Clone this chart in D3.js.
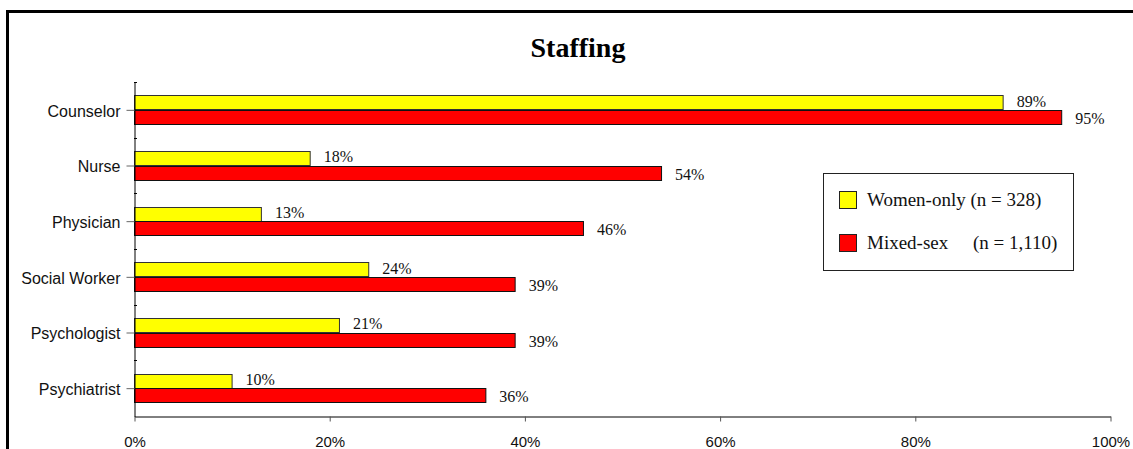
<!DOCTYPE html>
<html>
<head>
<meta charset="utf-8">
<script src="https://cdn.jsdelivr.net/npm/d3@7"></script>
<style>
  html, body { margin: 0; padding: 0; background: #fff; }
  svg { display: block; }
</style>
</head>
<body>
<svg id="chart" width="1133" height="449"></svg>
<script>
// Staffing by program type: share of programs with each staff role
const categories = ["Counselor", "Nurse", "Physician", "Social Worker", "Psychologist", "Psychiatrist"];
const womenOnly = [89, 18, 13, 24, 21, 10];
const mixedSex = [95, 54, 46, 39, 39, 36];
const seriesNames = ["Women-only (n = 328)", "Mixed-sex"];
const seriesNotes = ["", "(n = 1,110)"];
const xTicks = [0, 20, 40, 60, 80, 100];

const colors = ["#ffff00", "#ff0000"];
const serif = "'Times New Roman', 'Liberation Serif', serif";
const sans = "Arial, 'Liberation Sans', sans-serif";

const svg = d3.select("#chart");

// Outer frame
svg.append("path")
  .attr("d", "M7.5,1000 L7.5,11.5 L1200,11.5")
  .attr("fill", "none")
  .attr("stroke", "#000")
  .attr("stroke-width", 3);

// Title
svg.append("text")
  .attr("x", 578).attr("y", 57)
  .attr("text-anchor", "middle")
  .attr("font-family", serif)
  .attr("font-weight", "bold")
  .attr("font-size", 28)
  .text("Staffing");

const x = d3.scaleLinear().domain([0, 100]).range([134, 1110]);
const y = d3.scaleBand().domain(categories).range([82, 416])
  .paddingInner(0.48).paddingOuter(0.24);
const ySub = d3.scaleBand().domain([0, 1]).range([0, y.bandwidth()]);

const rows = categories.map((c, i) => ({ cat: c, vals: [womenOnly[i], mixedSex[i]] }));

// Bars
const g = svg.append("g");
rows.forEach(r => {
  r.vals.forEach((v, s) => {
    const y0 = y(r.cat) + ySub(s);
    g.append("rect")
      .attr("x", x(0) + 0.5)
      .attr("y", Math.round(y0) + 0.5)
      .attr("width", x(v) - x(0))
      .attr("height", Math.round(ySub.bandwidth()))
      .attr("fill", colors[s])
      .attr("stroke", s === 0 ? "#333" : "#111")
      .attr("stroke-width", 1);
    g.append("text")
      .attr("x", x(v) + 14)
      .attr("y", y0 + ySub.bandwidth() / 2 + (s === 0 ? 4 : 7))
      .attr("font-family", serif)
      .attr("font-size", 16)
      .attr("fill", "#111")
      .text(v + "%");
  });
});

// X axis
const xAxis = d3.axisBottom(x)
  .tickValues(xTicks)
  .tickFormat(d => d + "%")
  .tickSize(5)
  .tickSizeOuter(0);
const gx = svg.append("g")
  .attr("transform", "translate(0.5,416.5)")
  .call(xAxis);
gx.select(".domain").attr("stroke", "#000");
gx.selectAll(".tick line").attr("stroke", "#555");
gx.selectAll(".tick text")
  .attr("font-family", sans)
  .attr("font-size", 15)
  .attr("fill", "#111")
  .attr("dy", 0)
  .attr("y", 30);

// Y axis
const yAxis = d3.axisLeft(y).tickSize(8).tickSizeOuter(0).tickPadding(6);
const gy = svg.append("g")
  .attr("transform", "translate(134.5,0.5)")
  .call(yAxis);
gy.select(".domain").attr("stroke", "#000");
gy.selectAll(".tick line").attr("stroke", "#666");
gy.selectAll(".tick text")
  .attr("font-family", sans)
  .attr("font-size", 16)
  .attr("fill", "#111")
  .attr("dy", "0.4em");

// Minor marks at band boundaries
const bounds = categories.map(c => y(c) - y.step() * y.paddingInner() / 2);
svg.append("g").selectAll("line")
  .data(bounds)
  .join("line")
  .attr("x1", 134).attr("x2", 137)
  .attr("y1", d => Math.round(d) + 0.5).attr("y2", d => Math.round(d) + 0.5)
  .attr("stroke", "#000");

// Legend
const lg = svg.append("g");
lg.append("rect")
  .attr("x", 823.5).attr("y", 173.5)
  .attr("width", 250).attr("height", 97)
  .attr("fill", "#fff")
  .attr("stroke", "#222");
seriesNames.forEach((name, i) => {
  const cy = 200 + i * 43;
  lg.append("rect")
    .attr("x", 839.5).attr("y", cy - 9 + 0.5)
    .attr("width", 17).attr("height", 17)
    .attr("fill", colors[i])
    .attr("stroke", "#222");
  lg.append("text")
    .attr("x", 867).attr("y", cy + 6)
    .attr("font-family", serif)
    .attr("font-size", 19)
    .attr("fill", "#111")
    .text(name);
  if (seriesNotes[i]) {
    lg.append("text")
      .attr("x", 973).attr("y", cy + 6)
      .attr("font-family", serif)
      .attr("font-size", 19)
      .attr("fill", "#111")
      .text(seriesNotes[i]);
  }
});
</script>
</body>
</html>
